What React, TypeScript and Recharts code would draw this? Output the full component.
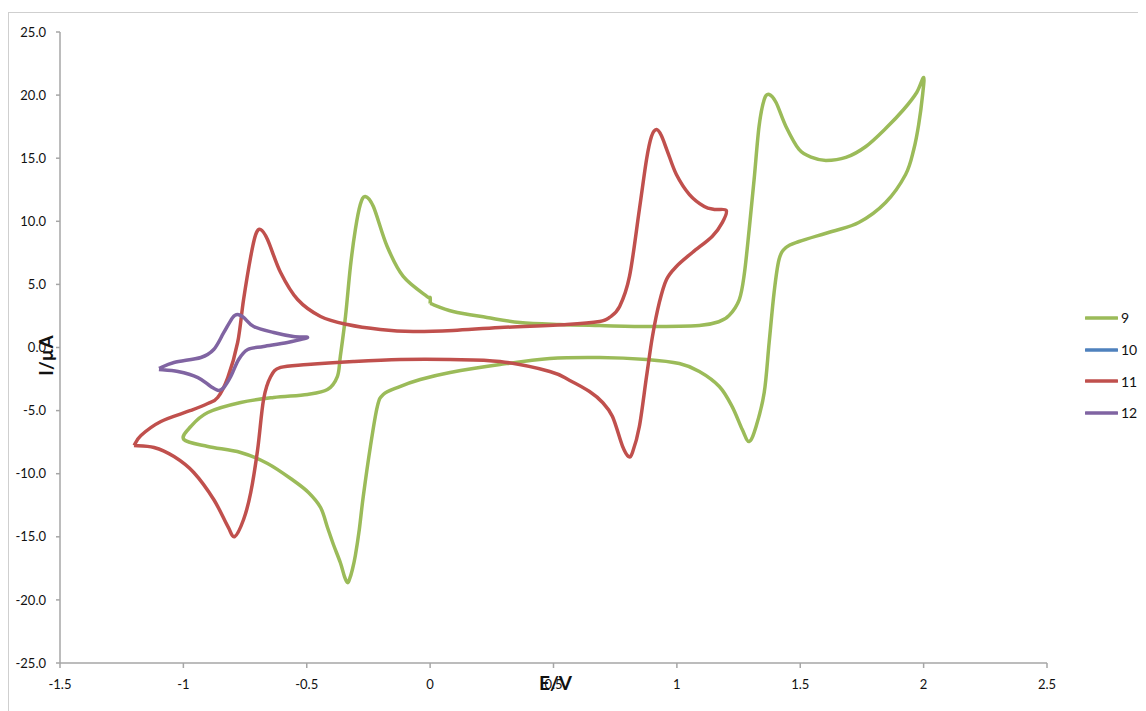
import React from 'react';
import { LineChart, Line, XAxis, YAxis, Legend } from 'recharts';

// Series 9 (green)
const e9 = [0, 0.093, 0.23, 0.364, 0.525, 0.687, 0.889, 1.091, 1.172, 1.212, 1.253, 1.273, 1.293, 1.313, 1.333, 1.354, 1.374, 1.402, 1.442, 1.495, 1.547, 1.604, 1.685, 1.766, 1.846, 1.919, 1.972, 2.0, 1.996, 1.98, 1.96, 1.927, 1.846, 1.737, 1.628, 1.495, 1.442, 1.414, 1.394, 1.374, 1.354, 1.321, 1.293, 1.265, 1.224, 1.172, 1.091, 1.01, 0.877, 0.687, 0.485, 0.283, 0.081, -0.04, -0.133, -0.19, -0.214, -0.242, -0.271, -0.287, -0.303, -0.315, -0.327, -0.335, -0.347, -0.364, -0.392, -0.416, -0.444, -0.493, -0.554, -0.659, -0.768, -0.901, -0.998, -0.97, -0.901, -0.768, -0.634, -0.497, -0.416, -0.376, -0.364, -0.343, -0.323, -0.303, -0.283, -0.263, -0.23, -0.174, -0.109, -0.012, 0, 0];
const i9 = [3.49, 2.85, 2.38, 1.98, 1.82, 1.74, 1.66, 1.74, 2.06, 2.54, 3.8, 5.78, 9.35, 13.31, 17.51, 19.65, 20.05, 19.41, 17.51, 15.69, 15.06, 14.82, 15.06, 15.93, 17.35, 18.86, 20.21, 21.4, 20.05, 17.67, 15.69, 13.71, 11.49, 9.9, 9.19, 8.4, 7.92, 6.97, 4.36, 0.4, -3.57, -6.26, -7.45, -6.5, -4.68, -3.09, -1.9, -1.27, -0.95, -0.79, -0.87, -1.35, -1.98, -2.54, -3.17, -3.72, -4.68, -7.84, -11.81, -14.42, -16.48, -17.59, -18.38, -18.62, -18.15, -17.04, -15.61, -14.26, -12.68, -11.49, -10.54, -9.19, -8.32, -7.84, -7.29, -6.26, -5.15, -4.36, -3.96, -3.72, -3.33, -2.3, -0.71, 2.46, 6.42, 9.35, 11.33, 11.97, 11.17, 8.0, 5.63, 4.04, 3.96, 3.49];

// Series 10 (blue) - no visible points
const e10: number[] = [];
const i10: number[] = [];

// Series 11 (red)
const e11 = [-1.2, -1.172, -1.091, -0.97, -0.901, -0.861, -0.82, -0.78, -0.756, -0.727, -0.707, -0.687, -0.659, -0.606, -0.537, -0.444, -0.335, -0.202, -0.069, 0.093, 0.283, 0.554, 0.687, 0.727, 0.768, 0.808, 0.848, 0.877, 0.897, 0.917, 0.937, 0.962, 0.998, 1.051, 1.111, 1.152, 1.2, 1.184, 1.143, 1.063, 0.998, 0.958, 0.929, 0.901, 0.877, 0.848, 0.82, 0.804, 0.78, 0.739, 0.699, 0.646, 0.566, 0.485, 0.283, 0.081, -0.121, -0.311, -0.497, -0.606, -0.646, -0.675, -0.699, -0.727, -0.756, -0.792, -0.82, -0.877, -0.958, -1.038, -1.119, -1.2];
const i11 = [-7.77, -6.97, -5.86, -4.99, -4.44, -3.96, -2.38, 0.4, 3.8, 7.21, 8.95, 9.35, 8.56, 5.94, 3.8, 2.46, 1.82, 1.43, 1.27, 1.35, 1.58, 1.82, 2.06, 2.38, 3.25, 5.63, 10.94, 14.9, 16.72, 17.27, 16.8, 15.53, 13.71, 12.12, 11.17, 10.94, 10.86, 9.9, 8.8, 7.53, 6.42, 5.39, 3.57, 0.87, -2.3, -6.26, -8.32, -8.64, -7.84, -5.47, -4.36, -3.49, -2.61, -1.9, -1.11, -0.95, -0.95, -1.11, -1.35, -1.58, -2.3, -4.12, -8.08, -11.49, -13.63, -14.98, -14.18, -12.04, -9.9, -8.64, -7.92, -7.77];

// Series 12 (purple)
const e12 = [-1.099, -1.038, -0.929, -0.877, -0.836, -0.8, -0.78, -0.756, -0.715, -0.634, -0.554, -0.497, -0.578, -0.675, -0.739, -0.776, -0.808, -0.836, -0.857, -0.889, -0.941, -1.022, -1.099];
const i12 = [-1.66, -1.19, -0.79, -0.16, 1.19, 2.38, 2.61, 2.38, 1.66, 1.19, 0.87, 0.79, 0.4, 0.08, -0.16, -0.95, -2.3, -3.17, -3.41, -3.09, -2.38, -1.9, -1.74];

const xTicks = [-1.5, -1, -0.5, 0, 0.5, 1, 1.5, 2, 2.5];
const yTicks = [-25, -20, -15, -10, -5, 0, 5, 10, 15, 20, 25];

const seriesNames = ['9', '10', '11', '12'];
const seriesColors = ['#9BBB59', '#4F81BD', '#C0504D', '#8064A2'];

const toPoints = (es: number[], is: number[]) => es.map((e, k) => ({ e, i: is[k] }));
const seriesData = [toPoints(e9, i9), toPoints(e10, i10), toPoints(e11, i11), toPoints(e12, i12)];

const FONT = 'Lato, "Open Sans", sans-serif';

// Smooth parametric curve (Catmull-Rom) so the closed CV loops render smoothly
const smoothCurve = (context: any) => {
  let pts: number[][] = [];
  return {
    areaStart() {},
    areaEnd() {},
    lineStart() {
      pts = [];
    },
    point(x: number, y: number) {
      pts.push([+x, +y]);
    },
    lineEnd() {
      const n = pts.length;
      if (!n) return;
      context.moveTo(pts[0][0], pts[0][1]);
      const t = 1 / 6;
      for (let k = 0; k < n - 1; k++) {
        const p0 = pts[k > 0 ? k - 1 : k];
        const p1 = pts[k];
        const p2 = pts[k + 1];
        const p3 = pts[k + 2 < n ? k + 2 : k + 1];
        context.bezierCurveTo(
          p1[0] + (p2[0] - p0[0]) * t,
          p1[1] + (p2[1] - p0[1]) * t,
          p2[0] - (p3[0] - p1[0]) * t,
          p2[1] - (p3[1] - p1[1]) * t,
          p2[0],
          p2[1]
        );
      }
    },
  };
};

const renderLegend = (props: any) => {
  const payload = [...(props.payload || [])].sort(
    (a: any, b: any) => seriesNames.indexOf(String(a.value)) - seriesNames.indexOf(String(b.value))
  );
  return (
    <div style={{ fontFamily: FONT, fontSize: 14, color: '#111' }}>
      {payload.map((p: any) => (
        <div key={p.value} style={{ display: 'flex', alignItems: 'center', height: 31.7 }}>
          <svg width={33} height={6}>
            <line x1={1} y1={3} x2={32} y2={3} stroke={p.color} strokeWidth={3.5} strokeLinecap="round" />
          </svg>
          <span style={{ marginLeft: 3 }}>{p.value}</span>
        </div>
      ))}
    </div>
  );
};

export default function App() {
  return (
    <div style={{ marginTop: 4, borderTop: '1.5px solid #cfcfcf', borderLeft: '1.5px solid #cfcfcf', width: 1138, height: 699 }}>
      <LineChart width={1138} height={699} margin={{ top: 19, right: 40, bottom: 0, left: 1 }}>
        <XAxis
          type="number"
          dataKey="e"
          domain={[-1.5, 2.5]}
          ticks={xTicks}
          tickFormatter={(v: number) => String(v)}
          stroke="#a6a6a6"
          strokeWidth={1.5}
          tickSize={5}
          tickMargin={12}
          height={49}
          tick={{ fill: '#111', fontSize: 13, fontFamily: FONT }}
          allowDataOverflow
          label={(props: any) => {
            const vb = props.viewBox;
            return (
              <text x={vb.x + vb.width / 2 + 2} y={vb.y + 22} textAnchor="middle" dominantBaseline="middle" fontFamily={FONT} fontWeight="bold" fontSize={19} fill="#111">E/V</text>
            );
          }}
        />
        <YAxis
          type="number"
          dataKey="i"
          domain={[-25, 25]}
          ticks={yTicks}
          tickFormatter={(v: number) => v.toFixed(1)}
          stroke="#a6a6a6"
          strokeWidth={1.5}
          tickSize={4}
          tickMargin={10}
          width={50}
          tick={{ fill: '#111', fontSize: 13, fontFamily: FONT }}
          allowDataOverflow
          label={(props: any) => {
            const vb = props.viewBox;
            const cx = vb.x + vb.width / 2 + 13;
            const cy = vb.y + vb.height / 2 + 8;
            return (
              <text x={cx} y={cy} transform={`rotate(-90 ${cx} ${cy})`} textAnchor="middle" dominantBaseline="middle" fontFamily={FONT} fontWeight="bold" fontSize={19} fill="#111">I/µA</text>
            );
          }}
        />
        <Legend
          layout="vertical"
          align="right"
          verticalAlign="top"
          content={renderLegend}
          wrapperStyle={{ left: 1076, top: 289, width: 60 }}
        />
        {seriesData.map((d, k) => (
          <Line
            key={seriesNames[k]}
            name={seriesNames[k]}
            data={d}
            dataKey="i"
            type={smoothCurve as any}
            stroke={seriesColors[k]}
            strokeWidth={3.5}
            dot={false}
            activeDot={false}
            isAnimationActive={false}
            strokeLinejoin="round"
          />
        ))}
      </LineChart>
    </div>
  );
}
